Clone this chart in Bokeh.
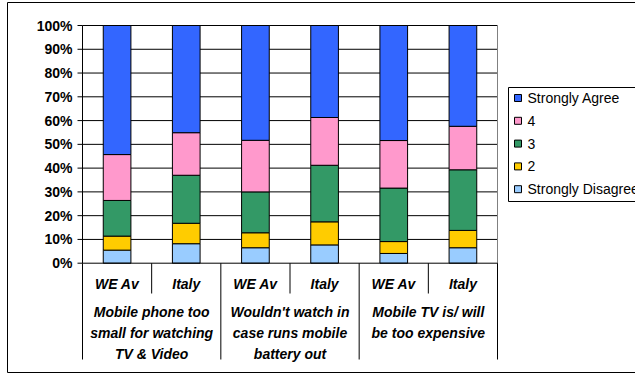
from bokeh.plotting import figure
from bokeh.models import ColumnDataSource, Range1d
from bokeh.core.properties import value
from bokeh.embed import file_html
from bokeh.resources import INLINE

# ---- data -------------------------------------------------------------
groups = [
    "Mobile phone too\nsmall for watching\nTV & Video",
    "Wouldn't watch in\ncase runs mobile\nbattery out",
    "Mobile TV is/ will\nbe too expensive",
]
regions = ["WE Av", "Italy"]
series = ["Strongly Disagree", "2", "3", "4", "Strongly Agree"]

strongly_disagree = [5.5, 8.2, 6.5, 7.7, 4.1, 6.5]
rating_2 = [5.9, 8.6, 6.3, 9.7, 5.0, 7.3]
rating_3 = [15.0, 20.2, 17.2, 23.8, 22.5, 25.5]
rating_4 = [19.3, 17.9, 21.7, 20.1, 20.0, 18.3]
strongly_agree = [54.3, 45.1, 48.3, 38.7, 48.4, 42.4]

y_ticks = [0, 10, 20, 30, 40, 50, 60, 70, 80, 90, 100]
y_tick_labels = [f"{t}%" for t in y_ticks]

colors = ["#99CCFF", "#FFCC00", "#339966", "#FF99CC", "#3366FF"]

# ---- layout -----------------------------------------------------------
W, H = 635, 374
PLOT_LEFT, PLOT_RIGHT = 82, 497
N_CATS = len(groups) * len(regions)
CAT_W = (PLOT_RIGHT - PLOT_LEFT) / N_CATS
Y_ZERO = 262.7
PX_PER_PCT = 2.377
FONT = "Liberation Sans"


def xd(px):
    return (px - PLOT_LEFT) / CAT_W


def yd(py):
    return (Y_ZERO - py) / PX_PER_PCT


x_centers = [i + 0.5 for i in range(N_CATS)]
sub_labels = [r for _ in groups for r in regions]
group_centers = [len(regions) * (g + 0.5) for g in range(len(groups))]

p = figure(
    width=W, height=H,
    x_range=Range1d(xd(0), xd(W)), y_range=Range1d(yd(H), yd(0)),
    output_backend="svg", toolbar_location=None,
    x_axis_location=None, y_axis_location=None,
    min_border=0, outline_line_color=None,
    background_fill_color="white", border_fill_color="white",
)
p.grid.visible = False

# outer chart border
p.line([xd(W + 20), xd(7), xd(7), xd(W + 20)], [yd(2), yd(2), yd(372), yd(372)],
       line_color="black", line_width=1)

# horizontal gridlines
grid_y = y_ticks[1:]
p.segment(x0=[0] * len(grid_y), x1=[N_CATS] * len(grid_y), y0=grid_y, y1=grid_y,
          line_color="black", line_width=1)
# plot area right border
p.segment(x0=[N_CATS], x1=[N_CATS], y0=[0], y1=[100], line_color="#808080", line_width=1)

# stacked bars
src = ColumnDataSource(dict(
    x=x_centers,
    sd=strongly_disagree, r2=rating_2, r3=rating_3, r4=rating_4, sa=strongly_agree,
))
p.vbar_stack(["sd", "r2", "r3", "r4", "sa"], x="x", width=0.4, source=src,
             fill_color=colors, line_color="black", line_width=1)

# value axis
p.segment(x0=[0], x1=[0], y0=[0], y1=[100], line_color="black", line_width=1)
p.segment(x0=[xd(PLOT_LEFT - 5)] * len(y_ticks), x1=[0] * len(y_ticks),
          y0=y_ticks, y1=y_ticks, line_color="black", line_width=1)
p.text(x=[xd(72)] * len(y_ticks), y=y_ticks, text=y_tick_labels,
       text_font=value(FONT), text_font_style="bold", text_font_size="14px",
       text_align="right", text_baseline="middle", text_color="black")

# category axis with two label levels
p.segment(x0=[0], x1=[N_CATS], y0=[0], y1=[0], line_color="black", line_width=1)
inner = [i for i in range(N_CATS + 1) if i % len(regions) == 1]
outer = [i for i in range(N_CATS + 1) if i % len(regions) == 0]
p.segment(x0=inner, x1=inner, y0=[0] * len(inner), y1=[yd(293)] * len(inner),
          line_color="black", line_width=1)
p.segment(x0=outer, x1=outer, y0=[0] * len(outer), y1=[yd(359)] * len(outer),
          line_color="black", line_width=1)
p.text(x=x_centers, y=[yd(283)] * N_CATS, text=sub_labels,
       text_font=value(FONT), text_font_style="bold italic", text_font_size="14px",
       text_align="center", text_baseline="middle", text_color="black")
p.text(x=group_centers, y=[yd(303)] * len(groups), text=groups,
       text_font=value(FONT), text_font_style="bold italic", text_font_size="14px",
       text_align="center", text_baseline="top", text_color="black",
       text_line_height=1.32)

# legend
legend_rows = [97.5 + 22.8 * k for k in range(len(series))]
legend_names = series[::-1]
legend_colors = colors[::-1]
p.line([xd(W + 20), xd(508), xd(508), xd(W + 20)], [yd(87), yd(87), yd(201), yd(201)],
       line_color="black", line_width=1)
p.rect(x=[xd(517.5)] * len(series), y=[yd(r) for r in legend_rows],
       width=7, height=7, width_units="screen", height_units="screen",
       fill_color=legend_colors, line_color="black", line_width=1)
p.text(x=[xd(527)] * len(series), y=[yd(r) for r in legend_rows], text=legend_names,
       text_font=value(FONT), text_font_size="14px",
       text_align="left", text_baseline="middle", text_color="black")

open("out.html", "w").write(file_html(p, INLINE))
